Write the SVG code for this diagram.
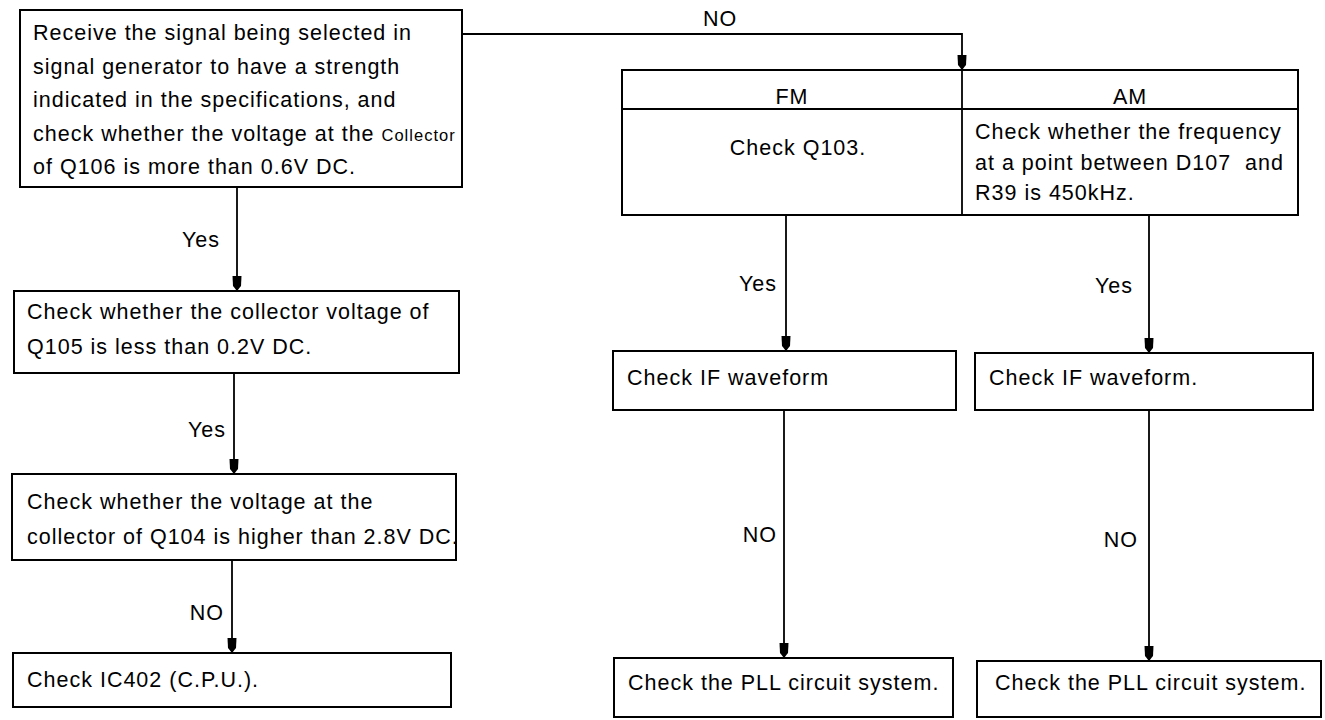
<svg xmlns="http://www.w3.org/2000/svg" width="1325" height="720" viewBox="0 0 1325 720">
<defs>
<marker id="arr" markerUnits="userSpaceOnUse" markerWidth="15" markerHeight="11" refX="15" refY="5.5" orient="auto">
<path d="M0,1 L10,1.5 L15,5.5 L10,9.5 L0,10 z" fill="#000"/>
</marker>
<style>
.box{fill:#fff;stroke:#000;stroke-width:2}
.ln{fill:none;stroke:#000;stroke-width:1.8}
.t{font-family:"Liberation Sans",Arial,sans-serif;font-size:21.5px;letter-spacing:1px;fill:#000}
.m{text-anchor:middle}
.e{text-anchor:end}
</style>
</defs>
<rect width="1325" height="720" fill="#fff"/>
<g id="connectors">
<polyline class="ln" points="462,34 962,34 962,70" marker-end="url(#arr)"/>
<line class="ln" x1="237" y1="187" x2="237" y2="291" marker-end="url(#arr)"/>
<line class="ln" x1="234" y1="373" x2="234" y2="474" marker-end="url(#arr)"/>
<line class="ln" x1="232" y1="560" x2="232" y2="653" marker-end="url(#arr)"/>
<line class="ln" x1="786" y1="215" x2="786" y2="351" marker-end="url(#arr)"/>
<line class="ln" x1="784" y1="410" x2="784" y2="658" marker-end="url(#arr)"/>
<line class="ln" x1="1149" y1="215" x2="1149" y2="353" marker-end="url(#arr)"/>
<line class="ln" x1="1149" y1="410" x2="1149" y2="661" marker-end="url(#arr)"/>
<text class="t m" x="720" y="26">NO</text>
<text class="t e" x="220" y="247">Yes</text>
<text class="t e" x="226" y="437">Yes</text>
<text class="t e" x="224" y="620">NO</text>
<text class="t e" x="777" y="291">Yes</text>
<text class="t e" x="777" y="542">NO</text>
<text class="t e" x="1133" y="293">Yes</text>
<text class="t e" x="1138" y="547">NO</text>
</g>
<g id="n1">
<rect class="box" x="20" y="10" width="442" height="177"/>
<text class="t" x="33" y="40">Receive the signal being selected in</text>
<text class="t" x="33" y="74">signal generator to have a strength</text>
<text class="t" x="33" y="107">indicated in the specifications, and</text>
<text class="t" x="33" y="141">check whether the voltage at the <tspan font-size="16.5">Collector</tspan></text>
<text class="t" x="33" y="174">of Q106 is more than 0.6V DC.</text>
</g>
<g id="n2">
<rect class="box" x="14" y="291" width="445" height="82"/>
<text class="t" x="27" y="319">Check whether the collector voltage of</text>
<text class="t" x="27" y="354">Q105 is less than 0.2V DC.</text>
</g>
<g id="n3">
<rect class="box" x="12" y="474" width="444" height="86"/>
<text class="t" x="27" y="509">Check whether the voltage at the</text>
<text class="t" x="27" y="544">collector of Q104 is higher than 2.8V DC.</text>
</g>
<g id="n4">
<rect class="box" x="13" y="653" width="438" height="54"/>
<text class="t" x="27" y="687">Check IC402 (C.P.U.).</text>
</g>
<g id="n5">
<rect class="box" x="622" y="70" width="676" height="145"/>
<line class="ln" x1="622" y1="109" x2="1298" y2="109"/>
<line class="ln" x1="962" y1="70" x2="962" y2="215"/>
<text class="t m" x="792" y="104">FM</text>
<text class="t m" x="1130" y="104">AM</text>
<text class="t m" x="798" y="155">Check Q103.</text>
<text class="t" x="975" y="139">Check whether the frequency</text>
<text class="t" x="975" y="170">at a point between D107&#160; and</text>
<text class="t" x="975" y="200">R39 is 450kHz.</text>
</g>
<g id="n6">
<rect class="box" x="613" y="351" width="343" height="59"/>
<text class="t" x="627" y="385">Check IF waveform</text>
</g>
<g id="n7">
<rect class="box" x="975" y="353" width="338" height="57"/>
<text class="t" x="989" y="385">Check IF waveform.</text>
</g>
<g id="n8">
<rect class="box" x="614" y="658" width="339" height="59"/>
<text class="t" x="628" y="690">Check the PLL circuit system.</text>
</g>
<g id="n9">
<rect class="box" x="977" y="661" width="344" height="56"/>
<text class="t" x="995" y="690">Check the PLL circuit system.</text>
</g>
</svg>
